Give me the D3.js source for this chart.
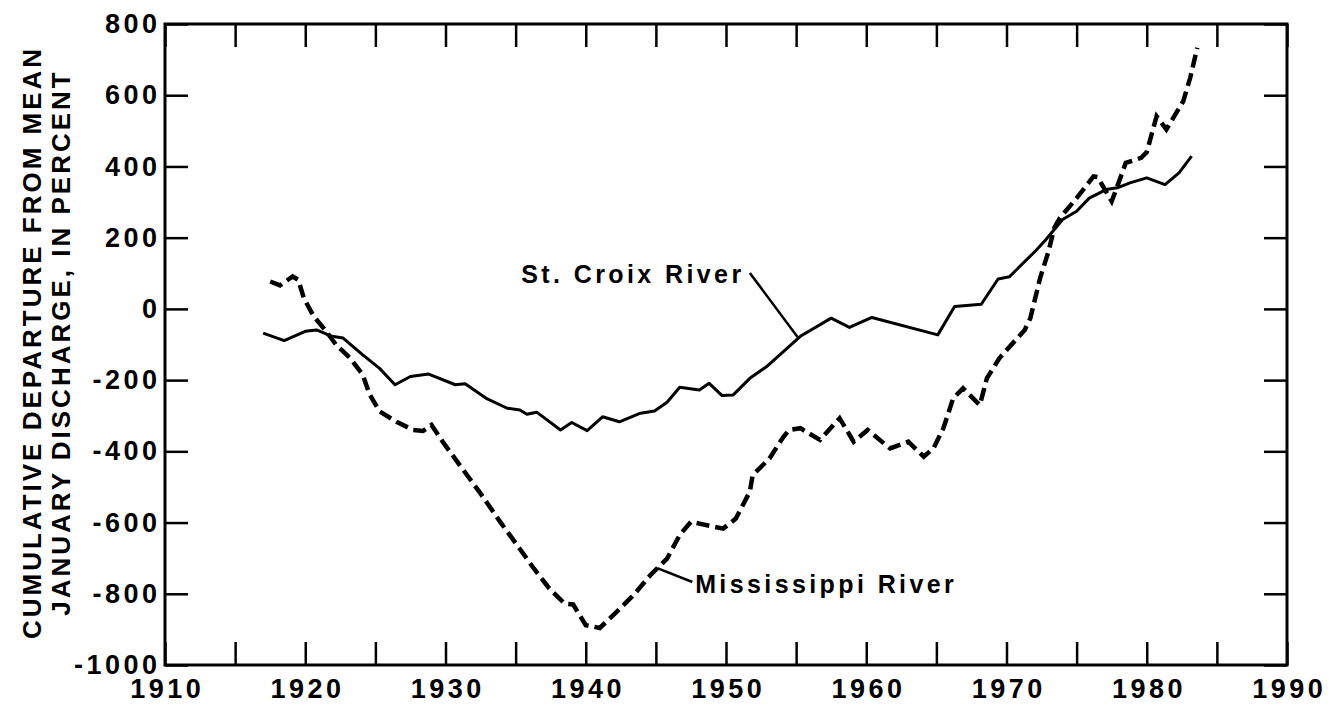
<!DOCTYPE html>
<html>
<head>
<meta charset="utf-8">
<script src="https://cdn.jsdelivr.net/npm/d3@7"></script>
<style>
  body { margin: 0; background: #fff; }
  svg text { font-family: "Liberation Sans", Arial, Helvetica, sans-serif; font-weight: bold; fill: #000; }
</style>
</head>
<body>
<svg id="chart" width="1337" height="707"></svg>
<script>
// St. Croix River (solid line)
const stCroixYears = [1917, 1918.5, 1920, 1920.8, 1921.9, 1922.7, 1924.1, 1925.3, 1926.4, 1927.5,
  1928.8, 1930.7, 1931.4, 1932.9, 1934.4, 1935.3, 1935.8, 1936.5, 1938.2, 1939.0,
  1940.1, 1941.2, 1942.4, 1943.9, 1944.9, 1945.8, 1946.7, 1948.1, 1948.8, 1949.7,
  1950.5, 1951.7, 1952.9, 1955.3, 1957.5, 1958.8, 1960.4, 1965.1, 1966.3, 1968.2,
  1969.4, 1970.2, 1972.1, 1972.8, 1974.0, 1975.0, 1975.9, 1977.1, 1977.9, 1978.8,
  1980.0, 1981.3, 1982.3, 1983.2];
const stCroixValues = [-68, -89, -63, -59, -77, -82, -129, -167, -213, -190,
  -183, -213, -210, -251, -279, -284, -296, -290, -340, -319,
  -342, -303, -317, -293, -287, -262, -220, -228, -209, -243,
  -242, -195, -162, -77, -26, -52, -24, -73, 7, 13,
  84, 90, 164, 194, 251, 274, 311, 335, 340, 354,
  368, 349, 382, 429];

// Mississippi River (dashed line)
const missYears = [1917.5, 1918.2, 1919.1, 1919.5, 1919.9, 1920.6, 1921.5, 1922.2, 1923.2, 1924.1,
  1924.6, 1925.3, 1926.5, 1927.7, 1928.4, 1929.0, 1929.8, 1931.0, 1932.4, 1933.9,
  1935.1, 1936.3, 1937.4, 1938.5, 1939.1, 1940.0, 1941.0, 1942.2, 1943.4, 1944.6,
  1945.8, 1946.7, 1947.5, 1948.1, 1949.8, 1950.7, 1951.7, 1951.9, 1953.1, 1954.1,
  1954.5, 1955.3, 1956.7, 1958.1, 1959.1, 1960.1, 1961.7, 1963.0, 1964.1, 1964.8,
  1965.5, 1966.2, 1966.9, 1968.1, 1968.6, 1969.5, 1971.3, 1971.7, 1972.4, 1973.0,
  1973.4, 1973.8, 1975.0, 1976.2, 1976.5, 1977.5, 1977.9, 1978.5, 1979.6, 1980.0,
  1980.7, 1981.4, 1982.6, 1983.1, 1983.6];
const missValues = [77, 66, 91, 82, 30, -21, -63, -101, -138, -185,
  -241, -288, -317, -340, -343, -326, -373, -438, -513, -598,
  -663, -729, -785, -828, -830, -888, -896, -851, -804, -748,
  -701, -635, -598, -603, -617, -589, -513, -467, -420, -359,
  -340, -335, -368, -307, -373, -340, -392, -373, -415, -391,
  -335, -251, -223, -270, -195, -138, -59, -26, 87, 162,
  227, 255, 311, 372, 370, 302, 344, 410, 424, 440,
  541, 504, 583, 649, 733];

const xTicks = d3.range(1910, 1991, 5);
const yTicks = d3.range(-1000, 801, 200);
const yTitle = ["CUMULATIVE DEPARTURE FROM MEAN", "JANUARY DISCHARGE, IN PERCENT"];

// annotation labels: label position and leader line, all in data units
const labels = [
  { text: "St. Croix River", x: 1935.4, y: 73, lx1: 1951.7, ly1: 101, lx2: 1955.1, ly2: -79 },
  { text: "Mississippi River", x: 1947.8, y: -798, lx1: 1945.1, ly1: -728, lx2: 1947.6, ly2: -767 }
];

const svg = d3.select("#chart");
const plotLeft = 165, plotRight = 1287, plotTop = 24, plotBottom = 665;

const x = d3.scaleLinear().domain([1910, 1990]).range([plotLeft, plotRight]);
const y = d3.scaleLinear().domain([-1000, 800]).range([plotBottom, plotTop]);

// frame
svg.append("rect")
  .attr("x", plotLeft).attr("y", plotTop)
  .attr("width", plotRight - plotLeft).attr("height", plotBottom - plotTop)
  .attr("fill", "none").attr("stroke", "#000").attr("stroke-width", 3);

function styleAxis(g) {
  g.select(".domain").remove();
  g.selectAll(".tick line").attr("stroke", "#000").attr("stroke-width", 2.5);
  g.selectAll("text").attr("fill", "#000")
    .style("font-size", "27px").style("letter-spacing", "3.5px");
}

svg.append("g")
  .attr("transform", `translate(0,${plotBottom})`)
  .call(d3.axisBottom(x).tickValues(xTicks).tickSize(-23).tickPadding(14)
    .tickFormat(d => d % 10 === 0 ? String(d) : ""))
  .call(styleAxis)
  .selectAll("text").attr("dx", "1.75px");

svg.append("g")
  .attr("transform", `translate(0,${plotTop})`)
  .call(d3.axisTop(x).tickValues(xTicks).tickSize(-23).tickFormat(""))
  .call(styleAxis);

svg.append("g")
  .attr("transform", `translate(${plotLeft},0)`)
  .call(d3.axisLeft(y).tickValues(yTicks).tickSize(-23).tickPadding(8)
    .tickFormat(d => String(d)))
  .call(styleAxis)
  .selectAll("text").attr("dx", "3.5px");

svg.append("g")
  .attr("transform", `translate(${plotRight},0)`)
  .call(d3.axisRight(y).tickValues(yTicks).tickSize(-23).tickFormat(""))
  .call(styleAxis);

// y axis title, two rotated lines
yTitle.forEach((t, i) => {
  svg.append("text")
    .attr("transform", `translate(${41 + i * 29},${(plotTop + plotBottom) / 2 - 2}) rotate(-90)`)
    .attr("text-anchor", "middle")
    .style("font-size", "26px")
    .style("letter-spacing", "3px")
    .text(t);
});

const line = d3.line()
  .x(d => x(d[0]))
  .y(d => y(d[1]));

svg.append("path")
  .datum(missYears.map((yr, i) => [yr, missValues[i]]))
  .attr("d", line)
  .attr("fill", "none")
  .attr("stroke", "#000")
  .attr("stroke-width", 4.5)
  .attr("stroke-dasharray", "13,6");

svg.append("path")
  .datum(stCroixYears.map((yr, i) => [yr, stCroixValues[i]]))
  .attr("d", line)
  .attr("fill", "none")
  .attr("stroke", "#000")
  .attr("stroke-width", 3)
  .attr("stroke-linejoin", "round");

labels.forEach(l => {
  svg.append("line")
    .attr("x1", x(l.lx1)).attr("y1", y(l.ly1))
    .attr("x2", x(l.lx2)).attr("y2", y(l.ly2))
    .attr("stroke", "#000").attr("stroke-width", 2.5);
  svg.append("text")
    .attr("x", x(l.x)).attr("y", y(l.y))
    .style("font-size", "25px")
    .style("letter-spacing", "3.4px")
    .text(l.text);
});
</script>
</body>
</html>
